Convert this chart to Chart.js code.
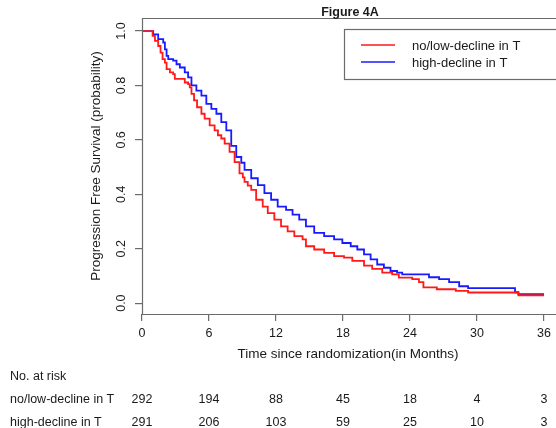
<!DOCTYPE html>
<html><head><meta charset="utf-8">
<script src="https://cdn.jsdelivr.net/npm/chart.js@4/dist/chart.umd.min.js"></script>
<style>html,body{margin:0;padding:0;background:#fff}#wrap{width:556px;height:428px;position:relative}</style>
</head><body><div id="wrap"><canvas id="c" width="556" height="428"></canvas></div>
<script>
const chartTitle = "Figure 4A";
const seriesNames = ["no/low-decline in T", "high-decline in T"];
const seriesColors = ["#ff1a1a", "#1a1aff"];
const xTitle = "Time since randomization(in Months)";
const yTitle = "Progression Free Survival (probability)";
const lowTimes = [0, 0.71, 0.95, 1.16, 1.45, 1.66, 1.84, 2.05, 2.2, 2.5, 2.79, 2.94, 3.83, 4.13, 4.28, 4.43, 4.66, 4.93, 5.32, 5.61, 6.06, 6.5, 6.8, 7.1, 7.4, 7.84, 8.29, 8.73, 9.03, 9.18, 9.47, 9.78, 10.22, 10.81, 11.26, 11.85, 12.45, 13.04, 13.64, 14.38, 14.68, 15.42, 16.31, 17.2, 18.09, 18.83, 19.88, 20.61, 21.51, 22.4, 23.0, 24.2, 24.8, 25.2, 26.4, 28.1, 29.2, 33.7, 36];
const lowSurv = [1, 1, 0.982, 0.964, 0.945, 0.921, 0.897, 0.884, 0.86, 0.848, 0.842, 0.824, 0.811, 0.805, 0.793, 0.769, 0.745, 0.72, 0.696, 0.678, 0.653, 0.635, 0.617, 0.605, 0.586, 0.556, 0.518, 0.477, 0.462, 0.446, 0.432, 0.416, 0.38, 0.355, 0.331, 0.307, 0.282, 0.264, 0.246, 0.234, 0.209, 0.197, 0.185, 0.173, 0.167, 0.155, 0.138, 0.126, 0.112, 0.106, 0.094, 0.088, 0.077, 0.058, 0.051, 0.045, 0.039, 0.029, 0.029];
const highTimes = [0, 0.71, 1.0, 1.45, 1.9, 2.05, 2.2, 2.35, 2.79, 3.09, 3.39, 3.83, 4.13, 4.43, 4.87, 5.32, 5.76, 6.21, 6.66, 7.1, 7.55, 7.99, 8.44, 8.89, 9.18, 9.78, 10.37, 10.96, 11.56, 12.15, 12.9, 13.48, 14.08, 14.68, 15.42, 16.31, 17.2, 17.94, 18.69, 19.28, 19.88, 20.47, 21.06, 21.66, 22.25, 22.84, 23.3, 25.7, 26.6, 27.5, 28.4, 29.2, 33.4, 33.7, 36];
const highSurv = [1, 1, 0.988, 0.97, 0.958, 0.933, 0.909, 0.897, 0.891, 0.878, 0.866, 0.848, 0.83, 0.80, 0.781, 0.763, 0.732, 0.714, 0.696, 0.665, 0.635, 0.578, 0.537, 0.516, 0.49, 0.459, 0.434, 0.404, 0.38, 0.355, 0.343, 0.325, 0.307, 0.282, 0.258, 0.246, 0.234, 0.221, 0.209, 0.197, 0.179, 0.161, 0.142, 0.13, 0.118, 0.112, 0.106, 0.095, 0.088, 0.077, 0.062, 0.055, 0.04, 0.033, 0.033];
const xTicks = [0, 6, 12, 18, 24, 30, 36];
const yTicks = [0, 0.2, 0.4, 0.6, 0.8, 1.0];
const riskHeader = "No. at risk";
const riskTimes = [0, 6, 12, 18, 24, 30, 36];
const riskLow = [292, 194, 88, 45, 18, 4, 3];
const riskHigh = [291, 206, 103, 59, 25, 10, 3];

const FONT = "'Liberation Sans', Arial, Helvetica, sans-serif";
const AXIS = "#6b6b6b";
const TEXT = "#1a1a1a";

function pts(ts, ss) { return ts.map((t, i) => ({x: t, y: ss[i]})); }

const overlay = {
  id: 'overlay',
  afterDraw(chart) {
    const ctx = chart.ctx, ca = chart.chartArea;
    const xs = chart.scales.x;
    ctx.save();
    // plot box
    ctx.strokeStyle = AXIS; ctx.lineWidth = 1.2;
    ctx.beginPath();
    ctx.moveTo(ca.right + 10, Math.round(ca.top) + 0.5);
    ctx.lineTo(Math.round(ca.left) + 0.5, Math.round(ca.top) + 0.5);
    ctx.lineTo(Math.round(ca.left) + 0.5, Math.round(ca.bottom) + 0.5);
    ctx.lineTo(ca.right + 10, Math.round(ca.bottom) + 0.5);
    ctx.stroke();
    // title
    ctx.fillStyle = TEXT;
    ctx.font = "bold 12.5px " + FONT;
    ctx.textAlign = 'center'; ctx.textBaseline = 'middle';
    ctx.fillText(chartTitle, (ca.left + ca.right) / 2 + 2, 13);
    // legend
    const lx = 344, ly = 29, lh = 50;
    ctx.strokeStyle = AXIS; ctx.lineWidth = 1.2;
    ctx.strokeRect(lx + 0.5, ly + 0.5, 300, lh);
    ctx.font = "13px " + FONT;
    ctx.textAlign = 'left';
    chart.data.datasets.forEach((ds, i) => {
      const yy = 45 + i * 17;
      ctx.strokeStyle = ds.borderColor; ctx.lineWidth = 1.6;
      ctx.beginPath(); ctx.moveTo(361, yy); ctx.lineTo(395, yy); ctx.stroke();
      ctx.fillStyle = TEXT;
      ctx.fillText(ds.label, 412, yy + 1);
    });
    // risk table
    ctx.fillStyle = TEXT;
    ctx.font = "12.5px " + FONT;
    ctx.textAlign = 'left';
    ctx.fillText(riskHeader, 10, 377);
    ctx.fillText(seriesNames[0], 10, 400);
    ctx.fillText(seriesNames[1], 10, 423);
    ctx.textAlign = 'center';
    riskTimes.forEach((t, i) => {
      const px = xs.getPixelForValue(t);
      ctx.fillText(String(riskLow[i]), px, 400);
      ctx.fillText(String(riskHigh[i]), px, 423);
    });
    ctx.restore();
  }
};

new Chart(document.getElementById('c'), {
  type: 'line',
  data: {
    datasets: [
      {label: seriesNames[0], data: pts(lowTimes, lowSurv), borderColor: seriesColors[0], borderWidth: 1.8, stepped: 'before', pointRadius: 0, fill: false, order: 1},
      {label: seriesNames[1], data: pts(highTimes, highSurv), borderColor: seriesColors[1], borderWidth: 1.8, stepped: 'before', pointRadius: 0, fill: false, order: 2}
    ]
  },
  options: {
    responsive: false,
    animation: false,
    devicePixelRatio: 1,
    layout: {padding: {left: 0, top: 18, right: 0, bottom: 0}},
    plugins: {legend: {display: false}, title: {display: false}, tooltip: {enabled: false}},
    scales: {
      x: {
        type: 'linear', min: 0, max: 36.89,
        afterFit(s) { s.height = 114; },
        afterBuildTicks(s) { s.ticks = xTicks.map(v => ({value: v})); },
        grid: {drawOnChartArea: false, drawTicks: true, tickLength: 7, color: AXIS, lineWidth: 1.2},
        border: {display: false},
        ticks: {color: TEXT, font: {family: FONT, size: 12.5}, padding: 5, maxRotation: 0, autoSkip: false},
        title: {display: true, text: xTitle, color: TEXT, font: {family: FONT, size: 13.5}, padding: {top: 0, bottom: 66}}
      },
      y: {
        type: 'linear', min: -0.04, max: 1.048,
        afterFit(s) { s.width = 142; },
        afterBuildTicks(s) { s.ticks = yTicks.map(v => ({value: v})); },
        grid: {drawOnChartArea: false, drawTicks: true, tickLength: 7, color: AXIS, lineWidth: 1.2},
        border: {display: false},
        ticks: {color: TEXT, font: {family: FONT, size: 12.5}, padding: 5, minRotation: 90, maxRotation: 90, crossAlign: 'center', callback: v => v.toFixed(1)},
        title: {display: true, text: yTitle, color: TEXT, font: {family: FONT, size: 13.5}, padding: {top: 88, bottom: 0}}
      }
    }
  },
  plugins: [overlay]
});
</script>
</body></html>
